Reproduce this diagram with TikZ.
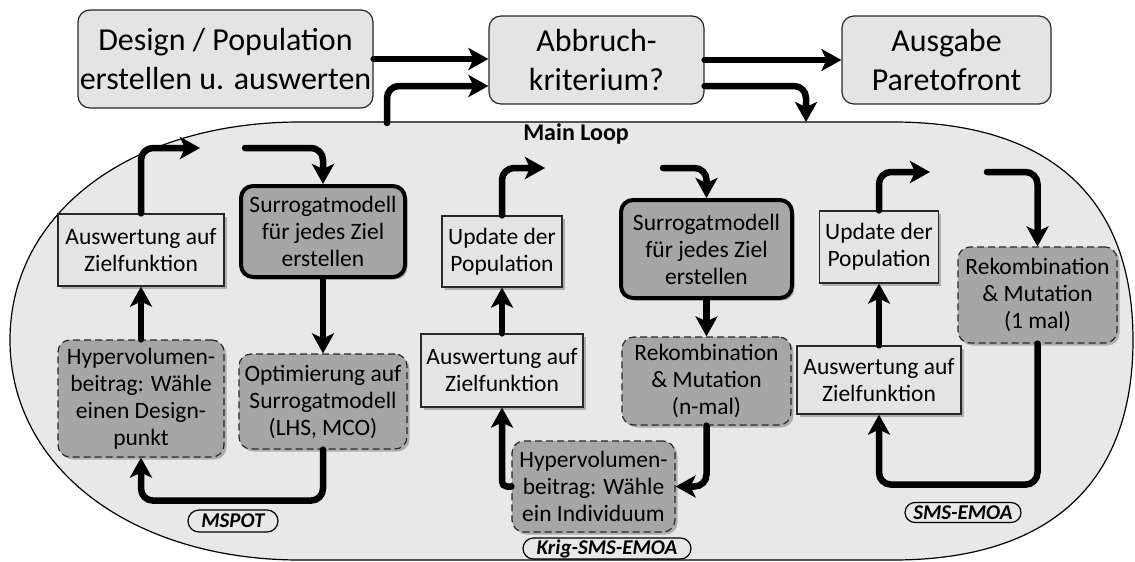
\documentclass[tikz,border=0pt]{standalone}
\usepackage{fontspec}
\setmainfont{Carlito}
\usetikzlibrary{arrows.meta,shadows,calc}
\definecolor{bgfill}{RGB}{232,232,232}
\definecolor{lightfill}{RGB}{228,228,228}
\definecolor{darkfill}{RGB}{166,166,166}
\definecolor{edgecol}{RGB}{40,40,40}
\begin{document}
\begin{tikzpicture}[x=1pt,y=-1pt,
  topbox/.style={draw=edgecol, line width=1.2pt, fill=lightfill, rounded corners=12pt, align=center, inner sep=0pt, font=\fontsize{32}{39}\selectfont},
  shad/.style={drop shadow={shadow xshift=2.5pt, shadow yshift=-2.5pt, fill=black!50, opacity=0.55}},
  litebox/.style={shad, draw=edgecol, line width=1.2pt, fill=lightfill, align=center, inner sep=0pt, font=\fontsize{23.5}{27}\selectfont},
  surbox/.style={shad, draw=black, line width=4pt, fill=darkfill, rounded corners=12pt, align=center, inner sep=0pt, font=\fontsize{23.5}{27}\selectfont},
  dashbox/.style={shad, draw=edgecol, line width=1.2pt, dash pattern=on 7pt off 4pt, fill=darkfill, rounded corners=12pt, align=center, inner sep=0pt, font=\fontsize{23.5}{27}\selectfont},
  pill/.style={draw=black, line width=1.2pt, inner sep=0pt, font=\fontsize{21}{23}\bfseries\itshape\selectfont},
  arr/.style={line width=6.5pt, line cap=round, rounded corners=12pt, -{Stealth[length=20pt,width=22pt,inset=5pt]}},
]
\useasboundingbox (0,0) rectangle (1135,562);
\fill[white] (0,0) rectangle (1135,562);

% main loop stadium
\path[draw=black, line width=1.2pt, fill=bgfill] (300,122) -- (893,122)
  .. controls (1049,122) and (1133,197) .. (1133,340)
  .. controls (1133,484) and (1049,560) .. (893,560) -- (300,560)
  .. controls (132,560) and (10,468) .. (10,340)
  .. controls (10,212) and (132,122) .. (300,122) -- cycle;
\node[font=\fontsize{24}{27}\bfseries\selectfont] (ml) at (576,134) {Main Loop};

% top row
\node[topbox, minimum width=295pt, minimum height=98pt] (design) at (225.5,59) {Design / Population\\erstellen u. auswerten};
\node[topbox, minimum width=215pt, minimum height=88pt] (abbruch) at (596.5,60) {Abbruch-\\kriterium?};
\node[topbox, minimum width=209pt, minimum height=88pt] (ausgabe) at (946.5,60) {Ausgabe\\Paretofront};

\coordinate (t1) at (387,123);
\coordinate (t2) at (806,122);
\draw[arr] (design.east) -- (design.east -| abbruch.west);
\draw[arr] (t1) |- ($(abbruch.west)+(0,26)$);
\draw[arr] (abbruch.east) -- (ausgabe.west);
\draw[arr] ($(abbruch.east)+(0,26)$) -| (t2);

% MSPOT
\node[litebox, minimum width=166pt, minimum height=72pt] (aus1) at (141,250) {Auswertung auf\\Zielfunktion};
\node[surbox, minimum width=164pt, minimum height=91pt] (sur1) at (323,231.5) {Surrogatmodell\\für jedes Ziel\\erstellen};
\node[dashbox, minimum width=166pt, minimum height=117pt] (hyp1) at (141,398.5) {Hypervolumen-\\beitrag: Wähle\\einen Design-\\punkt};
\node[dashbox, minimum width=168pt, minimum height=95pt] (opt1) at (323,401.5) {Optimierung auf\\Surrogatmodell\\(LHS, MCO)};
\node[pill, minimum width=90pt, minimum height=22pt, rounded corners=11pt] (lab1) at (233,521) {MSPOT};
\coordinate (m1) at (200,148);
\coordinate (m2) at (245,148);
\draw[arr] (aus1.north) |- (m1);
\draw[arr] (m2) -| (sur1.north);
\draw[arr] (sur1.south) -- (opt1.north);
\draw[arr] (opt1.south) -- ++(0,51) -| (hyp1.south);
\draw[arr] (hyp1.north) -- (aus1.south);

% Krig-SMS-EMOA
\node[litebox, minimum width=120pt, minimum height=71pt] (upd2) at (502,251.5) {Update der\\Population};
\node[surbox, minimum width=171pt, minimum height=98pt] (sur2) at (706.5,249) {Surrogatmodell\\für jedes Ziel\\erstellen};
\node[litebox, minimum width=162pt, minimum height=73pt] (aus2) at (502,370.5) {Auswertung auf\\Zielfunktion};
\node[dashbox, minimum width=169pt, minimum height=88pt] (rek2) at (706.5,381) {Rekombination\\\& Mutation\\(n-mal)};
\node[dashbox, minimum width=163pt, minimum height=91pt] (hyp2) at (593.5,486.5) {Hypervolumen-\\beitrag: Wähle\\ein Individuum};
\node[pill, minimum width=168pt, minimum height=21pt, rounded corners=10.5pt] (lab2) at (607,548.5) {Krig-SMS-EMOA};
\coordinate (k1) at (545,168);
\coordinate (k2) at (663,168);
\draw[arr] (upd2.north) |- (k1);
\draw[arr] (k2) -| (sur2.north);
\draw[arr] (sur2.south) -- (rek2.north);
\draw[arr] (rek2.south) |- (hyp2.east);
\draw[arr, rounded corners=5pt] (hyp2.west) -| (aus2.south);
\draw[arr] (aus2.north) -- (upd2.south);

% SMS-EMOA
\node[litebox, minimum width=119pt, minimum height=72pt] (upd3) at (879,247) {Update der\\Population};
\node[dashbox, minimum width=159pt, minimum height=96pt] (rek3) at (1037.5,295) {Rekombination\\\& Mutation\\(1 mal)};
\node[litebox, minimum width=164pt, minimum height=68pt] (aus3) at (879,380) {Auswertung auf\\Zielfunktion};
\node[pill, minimum width=116pt, minimum height=20pt, rounded corners=10pt] (lab3) at (963,512.5) {SMS-EMOA};
\coordinate (s1) at (930,172);
\coordinate (s2) at (987,172);
\draw[arr] (upd3.north) |- (s1);
\draw[arr] (s2) -| (rek3.north);
\draw[arr] (rek3.south) -- ++(0,141) -| (aus3.south);
\draw[arr] (aus3.north) -- (upd3.south);
\end{tikzpicture}
\end{document}
